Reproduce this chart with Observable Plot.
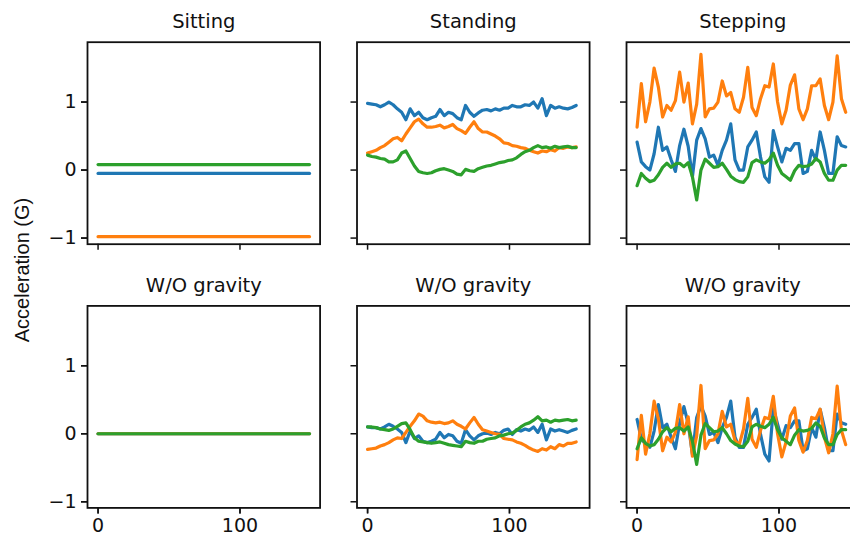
<!DOCTYPE html>
<html><head><meta charset="utf-8">
<script src="https://cdn.jsdelivr.net/npm/d3@7"></script>
<script src="https://cdn.jsdelivr.net/npm/@observablehq/plot@0.6"></script>
<style>
html,body{margin:0;padding:0;background:#fff;overflow:hidden;}
#wrap{position:relative;width:850px;height:540px;overflow:hidden;background:#fff;}
#wrap svg{max-width:none !important;display:block;}
#ylab{position:absolute;left:22px;top:270px;transform:translate(-50%,-50%) rotate(-90deg);font:20px "Liberation Sans";white-space:nowrap;color:#111;}
</style></head><body><div id="wrap"><div id="ylab">Acceleration (G)</div></div>
<script>
// ---- data ----
const activities = ["Sitting", "Standing", "Stepping"];
const rowKeys = ["raw", "nograv"];
const rowTitles = {raw: null, nograv: "W/O gravity"};
const axesNames = ["x", "y", "z"];
const colors = ["#1f77b4", "#ff7f0e", "#2ca02c"];
const xTicks = [0, 100];
const yTicks = [-1, 0, 1];
const T = d3.range(0, 150, 3); // sample times 0..147

// Sitting: constant levels (x, y, z)
const sittingRaw = [-0.05, -0.98, 0.08];
const sittingNoGrav = [0, 0, 0];
const sittingT = [0, 149];

const standingRawX = [0.98,0.97,0.96,0.93,0.96,1.0,0.96,0.90,0.85,0.74,
  0.90,0.80,0.85,0.77,0.74,0.77,0.79,0.89,0.80,0.85,
  0.83,0.77,0.74,0.95,0.85,0.79,0.84,0.88,0.89,0.87,
  0.90,0.88,0.91,0.91,0.95,0.93,0.93,0.96,0.95,1.0,
  0.91,1.05,0.80,0.95,0.91,0.93,0.91,0.90,0.92,0.95];
const standingRawY = [0.25,0.27,0.29,0.33,0.36,0.41,0.46,0.48,0.43,0.53,
  0.62,0.71,0.75,0.68,0.63,0.63,0.64,0.66,0.62,0.64,
  0.67,0.61,0.58,0.54,0.63,0.71,0.61,0.56,0.56,0.53,
  0.50,0.46,0.40,0.39,0.36,0.35,0.33,0.32,0.29,0.27,
  0.25,0.28,0.27,0.30,0.28,0.33,0.32,0.34,0.33,0.34];
const standingRawZ = [0.22,0.20,0.19,0.17,0.16,0.12,0.12,0.15,0.25,0.28,
  0.17,0.06,-0.02,-0.04,-0.05,-0.04,-0.01,0.01,0.02,0.0,
  -0.02,-0.06,-0.07,0.01,-0.01,-0.02,0.02,0.04,0.06,0.07,
  0.09,0.11,0.12,0.14,0.15,0.18,0.23,0.27,0.29,0.33,
  0.36,0.33,0.34,0.32,0.35,0.33,0.34,0.35,0.33,0.33];

const standingNgX = [0.10,0.09,0.09,0.07,0.10,0.14,0.11,0.07,0.02,-0.13,
  0.04,-0.07,-0.03,-0.11,-0.13,-0.11,-0.08,0.02,-0.06,-0.01,
  -0.03,-0.11,-0.14,0.06,-0.03,-0.09,-0.03,0.0,0.01,-0.01,
  0.02,0.0,0.05,0.07,-0.01,0.06,0.04,0.07,0.05,0.10,
  0.02,0.14,-0.09,0.07,0.04,0.06,0.04,0.02,0.05,0.07];
const standingNgY = [-0.23,-0.22,-0.21,-0.18,-0.16,-0.13,-0.09,-0.06,-0.07,0.02,
  0.11,0.19,0.29,0.26,0.19,0.17,0.16,0.17,0.15,0.16,
  0.19,0.14,0.11,0.07,0.16,0.24,0.14,0.06,0.04,0.02,
  0.0,-0.01,-0.07,-0.08,-0.09,-0.12,-0.14,-0.17,-0.21,-0.24,
  -0.26,-0.22,-0.24,-0.19,-0.22,-0.16,-0.18,-0.14,-0.14,-0.12];
const standingNgZ = [0.10,0.10,0.09,0.07,0.06,0.05,0.07,0.11,0.15,0.16,
  0.06,-0.06,-0.11,-0.12,-0.13,-0.14,-0.13,-0.12,-0.14,-0.16,
  -0.17,-0.18,-0.19,-0.11,-0.13,-0.14,-0.11,-0.11,-0.08,-0.07,
  -0.06,-0.03,-0.02,0.0,0.01,0.05,0.10,0.14,0.16,0.20,
  0.25,0.19,0.20,0.17,0.20,0.19,0.20,0.21,0.19,0.20];

const steppingRawX = [0.41,0.12,0.05,0.0,0.24,0.63,0.29,0.34,0.15,-0.02,
  0.36,0.60,0.35,-0.10,0.44,0.61,0.46,0.19,0.22,0.07,
  0.29,0.44,0.68,0.15,0.0,0.0,0.34,0.44,0.56,0.19,
  -0.10,-0.18,0.58,0.34,0.12,0.32,0.29,0.39,0.39,-0.05,
  -0.02,0.29,0.15,0.56,0.29,-0.05,-0.05,0.49,0.36,0.34];
const steppingRawY = [0.63,1.27,0.71,1.0,1.5,1.22,0.78,0.95,0.88,1.02,
  1.44,1.0,1.28,0.68,0.97,1.70,0.78,0.90,0.91,1.0,
  1.31,1.09,1.14,0.90,0.85,1.07,1.51,0.92,0.80,1.05,
  1.24,1.22,1.56,1.0,0.68,0.88,1.25,1.40,0.90,0.74,
  0.90,1.24,1.24,1.34,0.95,0.74,1.0,1.68,1.05,0.85];
const steppingRawZ = [-0.23,-0.05,-0.12,-0.17,-0.15,-0.07,0.04,0.10,0.04,0.09,
  0.10,0.05,0.11,-0.10,-0.44,0.0,0.16,0.10,0.04,0.05,
  0.10,0.01,-0.09,-0.14,-0.17,-0.18,-0.10,0.11,0.15,0.12,
  0.10,0.15,0.25,0.07,-0.05,-0.10,-0.15,-0.01,0.07,0.05,
  0.06,0.09,0.17,0.12,-0.05,-0.15,-0.15,0.0,0.07,0.07];

const steppingNgX = [0.21,-0.08,-0.15,-0.2,0.04,0.43,0.09,0.14,-0.05,-0.22,
  0.16,0.4,0.15,-0.3,0.24,0.41,0.26,-0.01,0.02,-0.13,
  0.09,0.24,0.48,-0.05,-0.2,-0.2,0.14,0.24,0.36,-0.01,
  -0.3,-0.4,0.38,0.14,-0.08,0.12,0.09,0.19,0.19,-0.25,
  -0.22,0.09,-0.05,0.36,0.09,-0.25,-0.25,0.29,0.16,0.14];
const steppingNgY = [-0.38,0.27,-0.30,0.0,0.48,0.22,-0.25,-0.05,-0.12,0.02,
  0.43,0.0,0.25,-0.33,-0.03,0.71,-0.22,-0.10,-0.09,0.0,
  0.33,0.10,0.14,-0.10,-0.16,0.07,0.52,-0.08,-0.20,0.05,
  0.24,0.22,0.55,0.0,-0.34,-0.12,0.26,0.38,-0.10,-0.27,
  -0.10,0.24,0.22,0.36,-0.05,-0.28,0.0,0.70,0.05,-0.16];
const steppingNgZ = [-0.22,-0.06,-0.14,-0.18,-0.16,-0.08,0.03,0.09,0.03,0.08,
  0.09,0.04,0.10,-0.11,-0.45,-0.02,0.15,0.09,0.03,0.04,
  0.09,0.0,-0.10,-0.15,-0.18,-0.19,-0.11,0.10,0.14,0.11,
  0.09,0.14,0.24,0.06,-0.06,-0.11,-0.16,-0.02,0.06,0.04,
  0.05,0.08,0.16,0.11,-0.06,-0.16,-0.16,-0.01,0.06,0.06];

// ---- build table ----
const data = [];
function addSeries(act, row, axis, ts, vs) {
  ts.forEach((t, i) => data.push({act, row, axis, t, v: vs[i]}));
}
axesNames.forEach((a, k) => {
  addSeries("Sitting", "raw", a, sittingT, [sittingRaw[k], sittingRaw[k]]);
  addSeries("Sitting", "nograv", a, sittingT, [sittingNoGrav[k], sittingNoGrav[k]]);
});
addSeries("Standing", "raw", "x", T, standingRawX);
addSeries("Standing", "raw", "y", T, standingRawY);
addSeries("Standing", "raw", "z", T, standingRawZ);
addSeries("Standing", "nograv", "x", T, standingNgX);
addSeries("Standing", "nograv", "y", T, standingNgY);
addSeries("Standing", "nograv", "z", T, standingNgZ);
addSeries("Stepping", "raw", "x", T, steppingRawX);
addSeries("Stepping", "raw", "y", T, steppingRawY);
addSeries("Stepping", "raw", "z", T, steppingRawZ);
addSeries("Stepping", "nograv", "x", T, steppingNgX);
addSeries("Stepping", "nograv", "y", T, steppingNgY);
addSeries("Stepping", "nograv", "z", T, steppingNgZ);

const titles = [];
rowKeys.forEach(r => activities.forEach(a => titles.push({act: a, row: r, title: rowTitles[r] || a})));

const fmt = d => d < 0 ? "\u2212" + (-d) : String(d);

const chart = Plot.plot({
  width: 900, height: 540,
  marginLeft: 87, marginRight: 41.4, marginTop: 41.7, marginBottom: 32.6,
  style: {fontFamily: "DejaVu Sans", fontSize: "19px", background: "white", color: "#111", overflow: "visible", maxWidth: "none"},
  fx: {domain: activities, axis: null, paddingInner: 0.137, paddingOuter: 0, round: false},
  fy: {domain: rowKeys, axis: null, paddingInner: 0.234, paddingOuter: 0, round: false},
  x: {domain: [-7.45, 156.45]},
  y: {domain: [-1.09, 1.88]},
  color: {domain: axesNames, range: colors},
  marks: [
    Plot.line(data, {fx: "act", fy: "row", x: "t", y: "v", z: "axis", stroke: "axis", strokeWidth: 3.2}),
    Plot.frame({stroke: "#111", strokeWidth: 1.8}),
    Plot.axisX({ticks: xTicks, tickSize: 6, tickFormat: () => "", facetAnchor: null, label: null, strokeWidth: 1.5}),
    Plot.axisX({ticks: xTicks, tickSize: 6, tickPadding: 5, tickFormat: fmt, label: null, strokeWidth: 1.5}),
    Plot.axisY({ticks: yTicks, tickSize: 6, tickFormat: () => "", facetAnchor: null, label: null, strokeWidth: 1.5}),
    Plot.axisY({ticks: yTicks, tickSize: 6, tickPadding: 5, tickFormat: fmt, label: null, strokeWidth: 1.5}),
    Plot.text(titles, {fx: "act", fy: "row", text: "title", frameAnchor: "top", lineAnchor: "middle", dy: -20, fontSize: 19.5, fill: "#111"})
  ]
});
document.getElementById("wrap").prepend(chart);
</script>
</body></html>
